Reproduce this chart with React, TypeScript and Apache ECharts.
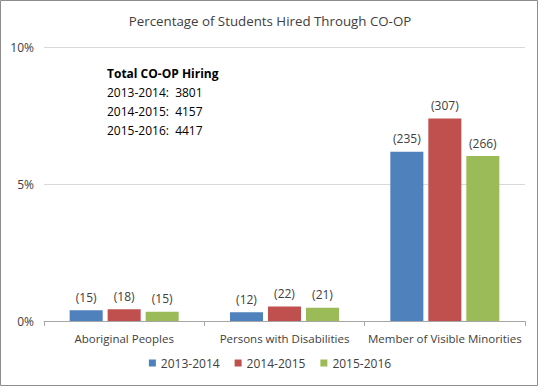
import React, { useEffect, useRef } from "react";
import * as echarts from "echarts";

const categories = ["Aboriginal Peoples", "Persons with Disabilities", "Member of Visible Minorities"];
const seriesNames = ["2013-2014", "2014-2015", "2015-2016"];
const pct2013 = [0.39, 0.32, 6.18];
const pct2014 = [0.43, 0.53, 7.39];
const pct2015 = [0.34, 0.48, 6.02];
const count2013 = [15, 12, 235];
const count2014 = [18, 22, 307];
const count2015 = [15, 21, 266];
const totals = ["3801", "4157", "4417"];
const colors = ["#4f81bd", "#c0504d", "#9bbb59"];
const yTicks = [0, 5, 10];

const FONT = "Open Sans";

export default function App() {
  const ref = useRef<HTMLDivElement>(null);
  useEffect(() => {
    document.body.style.margin = "0";
    const chart = echarts.init(ref.current!, null, { renderer: "svg" });
    const pcts = [pct2013, pct2014, pct2015];
    const counts = [count2013, count2014, count2015];
    chart.setOption({
      animation: false,
      backgroundColor: "#ffffff",
      title: {
        text: "Percentage of Students Hired Through CO-OP",
        left: "center",
        top: 9,
        textStyle: { fontFamily: FONT, fontSize: 13.3, fontWeight: "normal", color: "#404040" },
      },
      grid: { left: 44, right: 15, top: 47, bottom: 66 },
      legend: {
        bottom: 13,
        left: "center",
        itemWidth: 7,
        itemHeight: 7,
        itemGap: 15,
        icon: "rect",
        textStyle: { fontFamily: FONT, fontSize: 12, color: "#404040" },
        data: seriesNames,
      },
      xAxis: {
        type: "category",
        data: categories,
        axisLine: { lineStyle: { color: "#a6a6a6" } },
        axisTick: { show: true, length: 5, lineStyle: { color: "#a6a6a6" } },
        axisLabel: { interval: 0, fontFamily: FONT, fontSize: 11.5, color: "#404040", margin: 11 },
      },
      yAxis: {
        type: "value",
        min: yTicks[0],
        max: yTicks[yTicks.length - 1],
        interval: 5,
        axisLine: { show: false },
        axisTick: { show: false },
        splitLine: { lineStyle: { color: "#d9d9d9" } },
        axisLabel: {
          fontFamily: FONT,
          fontSize: 12,
          color: "#404040",
          margin: 10,
          formatter: (v: number) => v + "%",
        },
      },
      series: seriesNames.map((name, i) => ({
        name,
        type: "bar",
        barGap: "15%",
        barCategoryGap: "32%",
        itemStyle: { color: colors[i] },
        label: {
          show: true,
          position: "top",
          distance: 7,
          fontFamily: FONT,
          fontSize: 12,
          color: "#404040",
          formatter: (p: any) => "(" + counts[i][p.dataIndex] + ")",
        },
        data: pcts[i],
      })),
      graphic: [
        {
          type: "rect",
          shape: { x: 0.5, y: 0.5, width: 537, height: 385 },
          style: { fill: "none", stroke: "#8c8c8c", lineWidth: 1 },
          silent: true,
        },
        {
          type: "text",
          left: 107,
          top: 67,
          style: { text: "Total CO-OP Hiring", fontFamily: FONT, fontSize: 12, fontWeight: "bold", fill: "#000" },
        },
        ...seriesNames.map((n, i) => ({
          type: "text",
          left: 107,
          top: 86 + i * 19,
          style: { text: n + ":  " + totals[i], fontFamily: FONT, fontSize: 12, fill: "#000" },
        })),
      ],
    });
    return () => chart.dispose();
  }, []);
  return <div ref={ref} style={{ width: 540, height: 387 }} />;
}
